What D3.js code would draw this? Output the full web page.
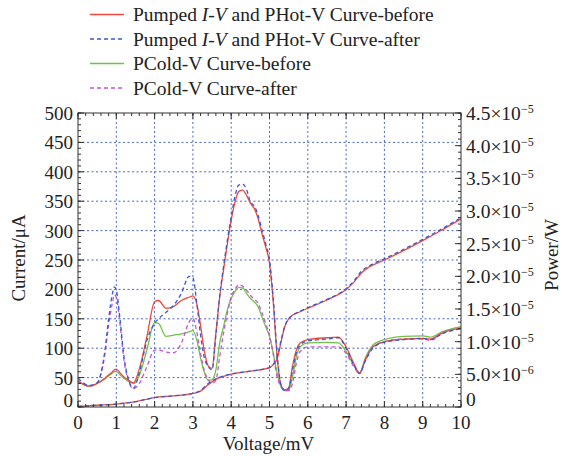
<!DOCTYPE html>
<html>
<head>
<meta charset="utf-8">
<script src="https://cdn.jsdelivr.net/npm/d3@7"></script>
<style>
  body { margin: 0; background: #fff; }
  svg text { font-family: "Liberation Serif", "Times New Roman", serif; fill: #222; }
</style>
</head>
<body>
<svg id="chart" width="562" height="456"></svg>
<script>
// pumped I-V curves (current, uA)
var ivV      = [0, 0.5, 1, 1.5, 2, 2.5, 3, 3.2, 3.4, 3.6, 3.8, 4, 4.5, 5, 5.1, 5.2, 5.3, 5.4, 5.5, 5.6, 5.8, 6, 6.5, 7, 7.2, 7.4, 7.6, 8, 8.5, 9, 9.5, 10];
var ivBefore = [1, 3, 5, 9, 16, 19, 23, 27, 38, 47, 52, 56, 61, 67, 72, 82, 110, 137, 150, 156, 162, 168, 182, 200, 212, 228, 238, 250, 266, 283, 301, 320];
var ivAfter  = [1, 3, 5, 9, 16, 19, 23, 28, 40, 48, 53, 56, 61, 67, 73, 85, 113, 138, 150, 156, 163, 169, 183, 201, 214, 231, 240, 252, 268, 285, 303, 322];

// power curves (x 1e-6 W)
var pV = [0, 0.3, 0.5, 0.7, 0.8, 0.9, 0.95, 1.0, 1.1, 1.2, 1.3, 1.45, 1.6, 1.8, 2.0, 2.1, 2.3, 2.5, 2.7, 2.9,
          3.0, 3.1, 3.2, 3.3, 3.4, 3.5, 3.6, 3.7, 3.8, 3.9, 4.0, 4.1, 4.2, 4.3, 4.4, 4.5, 4.6, 4.7, 4.8, 4.9,
          5.0, 5.1, 5.2, 5.3, 5.4, 5.5, 5.6, 5.7, 5.8, 6.0, 6.5, 6.8, 7.0, 7.2, 7.35, 7.5, 7.7, 8.0, 8.5, 9.0,
          9.2, 9.5, 10];
var pHotBefore = [3.9, 3.2, 3.6, 4.4, 4.9, 5.4, 5.7, 5.8, 5.2, 4.6, 4.2, 3.7, 5.8, 10.8, 16.1, 16.3, 15.1, 15.4, 16.3, 16.8,
                  17.0, 15.8, 12.5, 8.5, 6.3, 5.9, 11.3, 16.9, 21.0, 25.0, 28.6, 31.4, 33.0, 33.2, 32.4, 31.2, 30.4, 28.9, 26.6, 24.5,
                  22.0, 15.9, 7.7, 3.4, 2.6, 2.9, 6.2, 8.7, 9.8, 10.3, 10.6, 10.7, 9.2, 6.7, 5.2, 7.2, 9.2, 10.0, 10.4, 10.5,
                  10.4, 11.3, 12.1];
var pHotAfter  = [4.4, 3.3, 3.7, 8.5, 13.5, 17.4, 18.4, 17.9, 13.3, 7.7, 4.6, 2.9, 5.2, 10.2, 12.8, 13.5, 14.5, 15.6, 17.4, 20.0,
                  19.8, 16.0, 11.0, 7.5, 6.2, 5.7, 11.0, 17.0, 21.5, 25.5, 29.1, 32.3, 34.0, 34.1, 33.3, 31.4, 30.8, 29.4, 27.2, 25.0,
                  22.5, 16.5, 8.0, 3.4, 2.5, 2.8, 5.6, 8.3, 9.5, 10.1, 10.4, 10.6, 9.0, 6.5, 5.1, 7.0, 9.0, 9.9, 10.3, 10.5,
                  10.3, 11.2, 12.0];
var pColdBefore = [3.9, 3.2, 3.6, 4.3, 4.8, 5.2, 5.4, 5.4, 4.9, 4.4, 4.0, 3.6, 4.8, 8.8, 12.9, 12.8, 10.8, 11.0, 11.2, 11.5,
                   11.7, 10.3, 7.5, 5.3, 4.1, 4.2, 5.7, 9.8, 12.3, 14.9, 16.6, 17.7, 18.3, 18.2, 17.4, 16.6, 16.1, 15.4, 13.8, 12.3,
                   10.8, 8.2, 5.2, 3.1, 2.5, 2.6, 4.6, 7.7, 9.2, 9.8, 9.9, 9.8, 8.5, 6.4, 5.2, 7.5, 9.5, 10.3, 10.8, 10.9,
                   10.7, 11.5, 12.3];
var pColdAfter  = [4.0, 3.2, 3.7, 8.0, 12.5, 16.0, 17.2, 16.8, 12.5, 7.2, 4.3, 2.8, 3.6, 6.2, 8.7, 8.7, 8.4, 8.3, 9.8, 13.0,
                   13.6, 11.5, 8.2, 5.5, 4.2, 3.6, 4.1, 7.7, 11.3, 14.3, 16.9, 18.0, 18.7, 18.5, 17.9, 17.1, 16.5, 15.9, 14.5, 12.8,
                   11.0, 8.0, 4.6, 3.1, 2.5, 2.5, 3.6, 6.7, 8.5, 9.2, 9.2, 9.2, 8.2, 6.2, 5.1, 7.2, 9.2, 10.0, 10.4, 10.4,
                   10.2, 11.3, 12.0];

var xTicks = [0, 1, 2, 3, 4, 5, 6, 7, 8, 9, 10];
var yLeftTicks = [0, 50, 100, 150, 200, 250, 300, 350, 400, 450, 500];
var yRightTicks = ["0", "5.0", "1.0", "1.5", "2.0", "2.5", "3.0", "3.5", "4.0", "4.5"];
var yRightExp   = ["", "-6", "-5", "-5", "-5", "-5", "-5", "-5", "-5", "-5"];

var legendLabels = [
    ["Pumped ", "I-V", " and PHot-V Curve-before"],
    ["Pumped ", "I-V", " and PHot-V Curve-after"],
    ["PCold-V Curve-before"],
    ["PCold-V Curve-after"]
];

//////////////////
// Layout
//////////////////

var svg = d3.select("#chart");
var plotL = 78, plotR = 461, plotT = 113, plotB = 407;

var x  = d3.scaleLinear().domain([0, 10]).range([plotL, plotR]);
var yL = d3.scaleLinear().domain([0, 500]).range([plotB, plotT]);
var yR = d3.scaleLinear().domain([0, 4.5e-5]).range([plotB, plotT]);

var red = "#f0483a", blue = "#3a58d0", green = "#72c04a", pink = "#c455d0", grid = "#4a66cc";

// grid (dotted, from the left axis)
var g = svg.append("g");
g.selectAll(".gx").data(xTicks.slice(1, -1)).enter().append("line")
    .attr("x1", function(d) { return x(d); }).attr("x2", function(d) { return x(d); })
    .attr("y1", plotT).attr("y2", plotB)
    .attr("stroke", grid).attr("stroke-width", 1).attr("stroke-dasharray", "2,2.5");
g.selectAll(".gy").data(yLeftTicks.slice(1, -1)).enter().append("line")
    .attr("x1", plotL).attr("x2", plotR)
    .attr("y1", function(d) { return yL(d); }).attr("y2", function(d) { return yL(d); })
    .attr("stroke", grid).attr("stroke-width", 1).attr("stroke-dasharray", "2,2.5");

// curves
var lineI = d3.line()
    .x(function(d, i) { return x(ivV[i]); })
    .y(function(d) { return yL(d); })
    .curve(d3.curveMonotoneX);
var lineP = d3.line()
    .x(function(d, i) { return x(pV[i]); })
    .y(function(d) { return yR(d * 1e-6); })
    .curve(d3.curveMonotoneX);

var curves = [
    { d: lineP(pColdBefore), c: green, dash: null },
    { d: lineP(pColdAfter),  c: pink,  dash: "4,3" },
    { d: lineI(ivBefore),    c: red,   dash: null },
    { d: lineP(pHotBefore),  c: red,   dash: null },
    { d: lineI(ivAfter),     c: blue,  dash: "4,3" },
    { d: lineP(pHotAfter),   c: blue,  dash: "4,3" }
];
svg.append("g").selectAll("path").data(curves).enter().append("path")
    .attr("d", function(d) { return d.d; })
    .attr("fill", "none")
    .attr("stroke", function(d) { return d.c; })
    .attr("stroke-width", 1.3)
    .attr("stroke-dasharray", function(d) { return d.dash; });

// frame
svg.append("rect").attr("x", plotL).attr("y", plotT)
    .attr("width", plotR - plotL).attr("height", plotB - plotT)
    .attr("fill", "none").attr("stroke", "#333").attr("stroke-width", 1);

// axes with inward ticks
function tickLines(vals, fn, len) {
    svg.append("g").selectAll("line").data(vals).enter().append("line")
        .each(function(d) { var p = fn(d, len); d3.select(this).attr("x1", p[0]).attr("y1", p[1]).attr("x2", p[2]).attr("y2", p[3]); })
        .attr("stroke", "#333").attr("stroke-width", 1);
}
var xMinor = d3.range(0, 10.001, 0.2);
var yMinor = d3.range(0, 500.001, 10);
var rMinor = d3.range(0, 45.001, 1);

tickLines(xMinor, function(d, l) { return [x(d), plotB, x(d), plotB - l]; }, 3);
tickLines(xTicks, function(d, l) { return [x(d), plotB, x(d), plotB - l]; }, 6);
tickLines(xMinor, function(d, l) { return [x(d), plotT, x(d), plotT + l]; }, 3);
tickLines(xTicks, function(d, l) { return [x(d), plotT, x(d), plotT + l]; }, 6);
tickLines(yMinor, function(d, l) { return [plotL, yL(d), plotL + l, yL(d)]; }, 3);
tickLines(yLeftTicks, function(d, l) { return [plotL, yL(d), plotL + l, yL(d)]; }, 6);
tickLines(rMinor, function(d, l) { return [plotR, yR(d * 1e-6), plotR - l, yR(d * 1e-6)]; }, 3);
tickLines(d3.range(0, 45.001, 5), function(d, l) { return [plotR, yR(d * 1e-6), plotR - l, yR(d * 1e-6)]; }, 6);

// tick labels (the bottom "0" labels sit a little higher, as in the original)
svg.append("g").selectAll("text").data(xTicks).enter().append("text")
    .attr("x", function(d) { return x(d); }).attr("y", plotB + 22)
    .attr("text-anchor", "middle").attr("font-size", 19)
    .text(function(d) { return d; });
svg.append("g").selectAll("text").data(yLeftTicks).enter().append("text")
    .attr("x", plotL - 5).attr("y", function(d) { return yL(d) + (d === 0 ? 0 : 7); })
    .attr("text-anchor", "end").attr("font-size", 19)
    .text(function(d) { return d; });
var rl = svg.append("g").selectAll("text").data(yRightTicks).enter().append("text")
    .attr("x", plotR + 5)
    .attr("y", function(d, i) { return yR(i * 5e-6) + (i === 0 ? -1 : 7); })
    .attr("font-size", 19.5);
rl.append("tspan").text(function(d, i) { return i === 0 ? d : d + "\u00d710"; });
rl.append("tspan").attr("dy", -7).attr("font-size", 12)
    .text(function(d, i) { return yRightExp[i].replace("-", "\u2212"); });

// axis titles
svg.append("text").attr("x", (plotL + plotR) / 2 - 1).attr("y", 450)
    .attr("text-anchor", "middle").attr("font-size", 19).text("Voltage/mV");
svg.append("text").attr("transform", "translate(25,258) rotate(-90)")
    .attr("text-anchor", "middle").attr("font-size", 19).text("Current/\u03bcA");
svg.append("text").attr("transform", "translate(558,255) rotate(-90)")
    .attr("text-anchor", "middle").attr("font-size", 19).text("Power/W");

// legend
var legColors = [red, blue, green, pink];
var legDash = [null, "4,3", null, "4,3"];
var leg = svg.append("g").selectAll("g").data(legendLabels).enter().append("g")
    .attr("transform", function(d, i) { return "translate(0," + (14.5 + i * 24.5) + ")"; });
leg.append("line").attr("x1", 90).attr("x2", 124).attr("y1", 0).attr("y2", 0)
    .attr("stroke", function(d, i) { return legColors[i]; })
    .attr("stroke-width", 1.3)
    .attr("stroke-dasharray", function(d, i) { return legDash[i]; });
var lt = leg.append("text").attr("x", 133).attr("y", 6.5).attr("font-size", 19.5);
lt.each(function(d) {
    var t = d3.select(this);
    d.forEach(function(s, k) {
        t.append("tspan").attr("font-style", k === 1 ? "italic" : null).text(s);
    });
});
</script>
</body>
</html>
